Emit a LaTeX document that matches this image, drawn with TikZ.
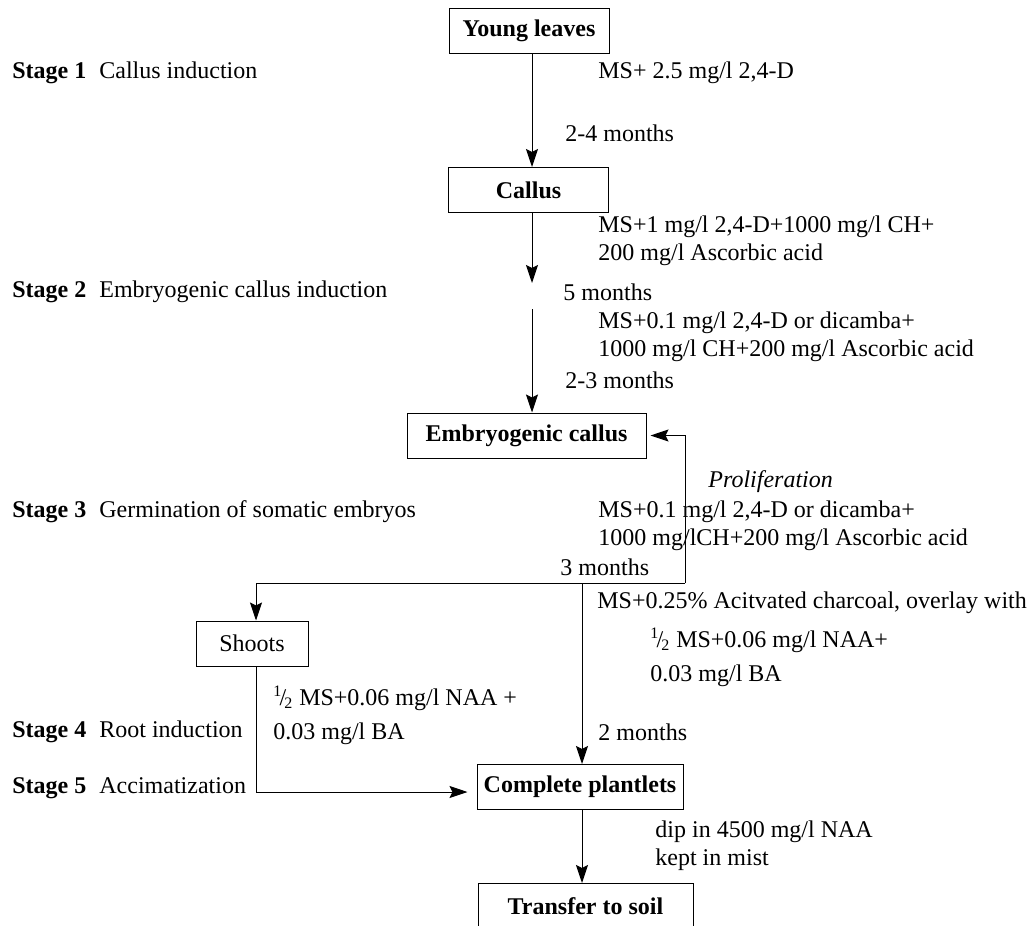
\documentclass[tikz,border=0pt]{standalone}
\usepackage{fontspec}
\setmainfont{Liberation Serif}
\usepackage{tikz}
\usetikzlibrary{arrows.meta,positioning,calc}

\newcommand{\halfms}{\textsuperscript{1}\kern-0.12em/\kern-0.08em\textsubscript{2}}

\begin{document}
\begin{tikzpicture}[
    x=0.5pt, y=-0.5pt,
    font=\fontsize{12}{14}\selectfont,
    >={Stealth[length=9pt,width=6pt,inset=1.5pt]},
    stagebox/.style={
        draw=black,
        minimum width=#1,
        minimum height=22.5pt,
        inner sep=0pt,
        align=center,
        line width=0.5pt,
        font=\fontsize{12}{14}\selectfont\bfseries
    },
    note/.style={
        anchor=west,
        inner sep=0pt,
        align=left
    },
    flow/.style={->, line width=0.5pt}
]
\clip (0,0) rectangle (1028,926);

%-----------------------------------
% Boxes
%-----------------------------------
\node[stagebox=80pt]    (Leaves) at (529,31)    {Young leaves};
\node[stagebox=80pt]    (Callus) at (528.5,190) {Callus};
\node[stagebox=119.5pt] (Embryo) at (526.5,435.5) {Embryogenic callus};
\node[stagebox=56pt, font=\fontsize{12}{14}\selectfont] (Shoots) at (252,643.5) {Shoots};
\node[stagebox=103pt]   (Plant)  at (580,787)   {Complete plantlets};
\node[stagebox=107.5pt] (Soil)   at (585.5,906) {Transfer to soil};

%-----------------------------------
% Stage labels
%-----------------------------------
\node[note] (S1) at (12,73)  {\textbf{Stage 1}\hspace{6.5pt}Callus induction};
\node[note] (S2) at (12,292) {\textbf{Stage 2}\hspace{6.5pt}Embryogenic callus induction};
\node[note] (S3) at (12,512) {\textbf{Stage 3}\hspace{6.5pt}Germination of somatic embryos};
\node[note] (S4) at (12,732) {\textbf{Stage 4}\hspace{6.5pt}Root induction};
\node[note] (S5) at (12,788) {\textbf{Stage 5}\hspace{6.5pt}Accimatization};

%-----------------------------------
% Media and durations
%-----------------------------------
\node[note] (M1) at (598,73)  {MS+ 2.5 mg/l 2,4-D};
\node[note] (T1) at (565,133) {2-4 months};
\node[note] (M2) at (598,241) {MS+1 mg/l 2,4-D+1000 mg/l CH+\\200 mg/l Ascorbic acid};
\node[note] (T2) at (563,292) {5 months};
\node[note] (M3) at (598,337) {MS+0.1 mg/l 2,4-D or dicamba+\\1000 mg/l CH+200 mg/l Ascorbic acid};
\node[note] (T3) at (565,380) {2-3 months};
\node[note] (Prolif) at (708,482) {\itshape Proliferation};
\node[note] (M4) at (598,526) {MS+0.1 mg/l 2,4-D or dicamba+\\1000 mg/lCH+200 mg/l Ascorbic acid};
\node[note] (T4) at (560,567) {3 months};
\node[note] (M5) at (597,603) {MS+0.25\% Acitvated charcoal, overlay with};
\node[note] (M6) at (650,657) {\halfms\ MS+0.06 mg/l NAA+\\[3pt]0.03 mg/l BA};
\node[note] (M7) at (273,715) {\halfms\ MS+0.06 mg/l NAA +\\[3pt]0.03 mg/l BA};
\node[note] (T5) at (598,732) {2 months};
\node[note] (M8) at (655,846) {dip in 4500 mg/l NAA\\kept in mist};

%-----------------------------------
% Arrows
%-----------------------------------
\coordinate (axis)  at (532,0);
\coordinate (gapA)  at (532,283);
\coordinate (gapB)  at (532,309);
\coordinate (loopR) at (685,583);
\coordinate (split) at (582,583);
\coordinate (loopL) at (256,583);

\draw[flow] (Leaves.south -| axis) -- (Callus.north -| axis);
\draw[flow] (Callus.south -| axis) -- (gapA);
\draw[flow] (gapB) -- (Embryo.north -| axis);

\draw[flow, shorten >=2pt] (loopR) |- (Embryo.east);
\draw[flow] (loopR) -- (loopL) -- (Shoots.north -| loopL);
\draw[flow] (split) -- (Plant.north -| split);

\draw[flow, shorten >=4.5pt] (Shoots.south -| loopL) |- ([yshift=-2.5pt]Plant.west);
\draw[flow] (Plant.south -| split) -- (Soil.north -| split);

\end{tikzpicture}
\end{document}
